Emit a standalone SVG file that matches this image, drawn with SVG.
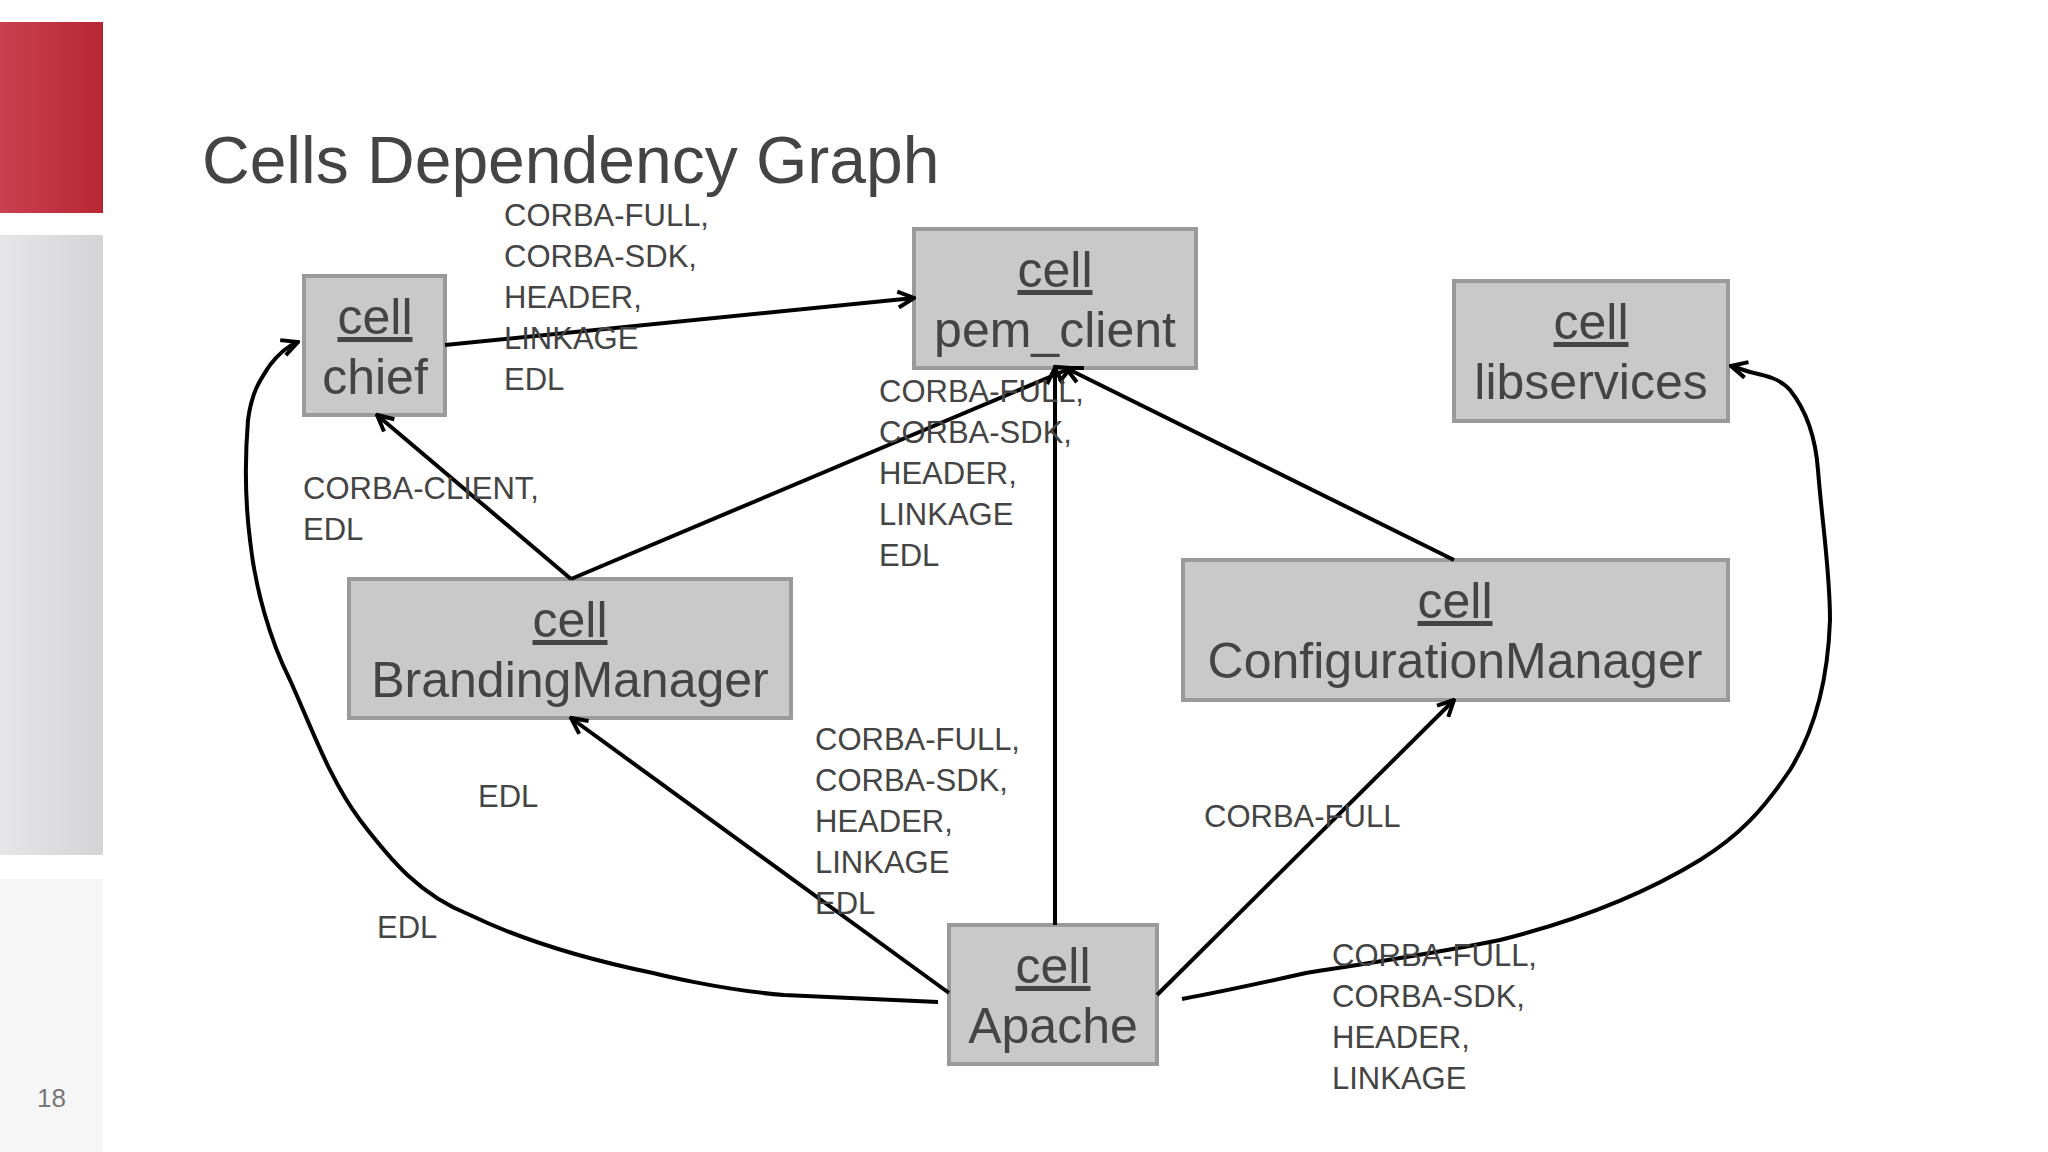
<svg xmlns="http://www.w3.org/2000/svg" width="2048" height="1152" viewBox="0 0 2048 1152">
<defs>
<linearGradient id="red" x1="0" x2="1"><stop offset="0" stop-color="#c94050"/><stop offset="1" stop-color="#b82634"/></linearGradient>
<linearGradient id="gray" x1="0" x2="1"><stop offset="0" stop-color="#e6e6e8"/><stop offset="1" stop-color="#d4d4d6"/></linearGradient>
<marker id="ah" viewBox="0 0 10 10" refX="9" refY="5" markerWidth="5" markerHeight="5" orient="auto-start-reverse" markerUnits="strokeWidth"><path d="M1,1 L9,5 L1,9" fill="none" stroke="#000" stroke-width="2"/></marker>
<style>
.box{fill:#c9c9c9;stroke:#9a9a9a;stroke-width:4}
.bt{font-family:"Liberation Sans",Arial,sans-serif;font-size:50px;fill:#444;text-anchor:middle}
.lb{font-family:"Liberation Sans",Arial,sans-serif;font-size:31px;fill:#444}
.c{fill:none;stroke:#000;stroke-width:4;marker-end:url(#ah)}
</style>
</defs>
<rect width="2048" height="1152" fill="#fff"/>
<rect x="0" y="22" width="103" height="191" fill="url(#red)"/>
<rect x="0" y="235" width="103" height="620" fill="url(#gray)"/>
<rect x="0" y="879" width="103" height="273" fill="#f6f6f7"/>
<text x="202" y="183" font-family="Liberation Sans,Arial,sans-serif" font-size="66" fill="#444">Cells Dependency Graph</text>
<text x="37" y="1107" font-family="Liberation Sans,Arial,sans-serif" font-size="26" fill="#777">18</text>
<g id="chief"><rect class="box" x="304" y="276" width="141" height="139"/><text class="bt" x="375" y="334" text-decoration="underline">cell</text><text class="bt" x="375" y="394">chief</text></g>
<g id="pem_client"><rect class="box" x="914" y="229" width="282" height="139"/><text class="bt" x="1055" y="287" text-decoration="underline">cell</text><text class="bt" x="1055" y="347">pem_client</text></g>
<g id="libservices"><rect class="box" x="1454" y="281" width="274" height="140"/><text class="bt" x="1591" y="339" text-decoration="underline">cell</text><text class="bt" x="1591" y="399">libservices</text></g>
<g id="BrandingManager"><rect class="box" x="349" y="579" width="442" height="139"/><text class="bt" x="570" y="637" text-decoration="underline">cell</text><text class="bt" x="570" y="697">BrandingManager</text></g>
<g id="ConfigurationManager"><rect class="box" x="1183" y="560" width="545" height="140"/><text class="bt" x="1455" y="618" text-decoration="underline">cell</text><text class="bt" x="1455" y="678">ConfigurationManager</text></g>
<g id="Apache"><rect class="box" x="949" y="925" width="208" height="139"/><text class="bt" x="1053" y="983" text-decoration="underline">cell</text><text class="bt" x="1053" y="1043">Apache</text></g>
<g id="connectors">
<path class="c" d="M445,345 L914,298"/>
<path class="c" d="M571,579 L377,415"/>
<path class="c" d="M571,579 L1071,368"/>
<path class="c" d="M1055,925 L1055,368"/>
<path class="c" d="M1454,560 L1066,368"/>
<path class="c" d="M949,993 L571,718"/>
<path class="c" d="M1157,995 L1454,700"/>
<path class="c" d="M938,1002 C860,998 784,995 784,995 C720,990 653,973 653,973 C590,960 522,940 470,915 C420,895 392,862 360,820 C330,780 313,731 290,680 C270,640 255,588 250,540 C245,500 245,457 248,420 C252,390 261,379 270,365 C280,352 290,345 298,342"/>
<path class="c" d="M1182,999 C1230,990 1306,973 1306,973 C1370,963 1437,953 1500,940 C1560,925 1633,901 1700,860 C1740,835 1763,810 1790,770 C1815,730 1828,679 1830,620 C1830,570 1822,522 1818,470 C1815,430 1802,405 1790,390 C1780,378 1763,375 1750,372 C1740,369 1735,367 1731,366"/>
</g>
<g class="lb">
<text class="lb" x="504" y="226">CORBA-FULL,</text><text class="lb" x="504" y="267">CORBA-SDK,</text><text class="lb" x="504" y="308">HEADER,</text><text class="lb" x="504" y="349">LINKAGE</text><text class="lb" x="504" y="390">EDL</text>
<text class="lb" x="879" y="402">CORBA-FULL,</text><text class="lb" x="879" y="443">CORBA-SDK,</text><text class="lb" x="879" y="484">HEADER,</text><text class="lb" x="879" y="525">LINKAGE</text><text class="lb" x="879" y="566">EDL</text>
<text class="lb" x="303" y="499">CORBA-CLIENT,</text><text class="lb" x="303" y="540">EDL</text>
<text class="lb" x="478" y="807">EDL</text>
<text class="lb" x="377" y="938">EDL</text>
<text class="lb" x="815" y="750">CORBA-FULL,</text><text class="lb" x="815" y="791">CORBA-SDK,</text><text class="lb" x="815" y="832">HEADER,</text><text class="lb" x="815" y="873">LINKAGE</text><text class="lb" x="815" y="914">EDL</text>
<text class="lb" x="1204" y="827">CORBA-FULL</text>
<text class="lb" x="1332" y="966">CORBA-FULL,</text><text class="lb" x="1332" y="1007">CORBA-SDK,</text><text class="lb" x="1332" y="1048">HEADER,</text><text class="lb" x="1332" y="1089">LINKAGE</text>
</g>
</svg>
